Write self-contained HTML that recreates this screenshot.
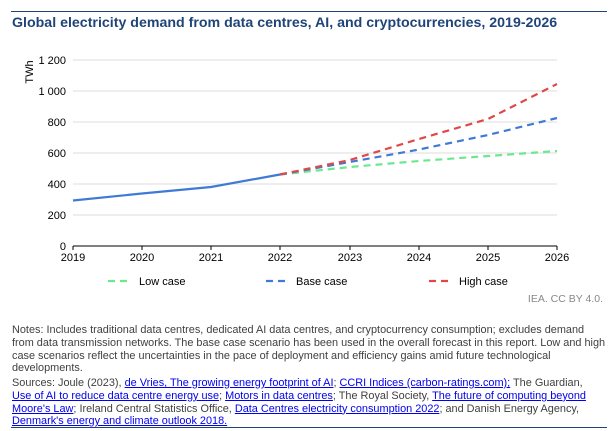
<!DOCTYPE html>
<html><head><meta charset="utf-8"><style>
body{margin:0;width:616px;height:431px;background:#fff;font-family:"Liberation Sans",sans-serif;position:relative;overflow:hidden}
.t{position:absolute;left:12px;top:15px;font-size:14.2px;font-weight:bold;color:#1f4478;white-space:nowrap}
.n{position:absolute;left:12px;width:600px;font-size:10.9px;line-height:12.8px;color:#404040;white-space:nowrap}
a{color:#0000ee;text-decoration:underline}
</style></head><body>
<div style="position:absolute;left:11px;top:11px;width:596px;height:1px;background:#1f4478"></div>
<div class="t">Global electricity demand from data centres, AI, and cryptocurrencies, 2019-2026</div>
<svg width="616" height="431" style="position:absolute;left:0;top:0" font-family="Liberation Sans, sans-serif" font-size="11" fill="#000">
<g stroke="#e3e3e3" stroke-width="1.3">
<line x1="73" x2="557" y1="60" y2="60"/><line x1="73" x2="557" y1="91" y2="91"/><line x1="73" x2="557" y1="122" y2="122"/><line x1="73" x2="557" y1="153" y2="153"/><line x1="73" x2="557" y1="184" y2="184"/><line x1="73" x2="557" y1="215" y2="215"/>
</g>
<line x1="73" x2="557" y1="246" y2="246" stroke="#000" stroke-width="1"/>
<g stroke="#000"><line x1="73" x2="73" y1="246" y2="250"/><line x1="142" x2="142" y1="246" y2="250"/><line x1="211" x2="211" y1="246" y2="250"/><line x1="280" x2="280" y1="246" y2="250"/><line x1="350" x2="350" y1="246" y2="250"/><line x1="419" x2="419" y1="246" y2="250"/><line x1="488" x2="488" y1="246" y2="250"/><line x1="557" x2="557" y1="246" y2="250"/></g>
<g text-anchor="end"><text x="66" y="64">1 200</text><text x="66" y="95">1 000</text><text x="66" y="126">800</text><text x="66" y="157">600</text><text x="66" y="188">400</text><text x="66" y="219">200</text><text x="66" y="250">0</text></g>
<text transform="translate(33,72) rotate(-90)" text-anchor="middle">TWh</text>
<g text-anchor="middle"><text x="73" y="261">2019</text><text x="142" y="261">2020</text><text x="211" y="261">2021</text><text x="280" y="261">2022</text><text x="350" y="261">2023</text><text x="419" y="261">2024</text><text x="488" y="261">2025</text><text x="557" y="261">2026</text></g>
<polyline fill="none" stroke="#3f7ad6" stroke-width="2.2" points="73,200.5 142,193.5 211,187 280,174.5"/>
<polyline fill="none" stroke="#6ce88c" stroke-width="2.2" stroke-dasharray="7,5" points="280,174.5 350,167 419,161 488,156 557,151"/>
<polyline fill="none" stroke="#3f7ad6" stroke-width="2.2" stroke-dasharray="7,5" points="280,174.5 350,162 419,149.5 488,135 557,118"/>
<polyline fill="none" stroke="#e04848" stroke-width="2.2" stroke-dasharray="7,5" points="280,174.5 350,160 419,139 488,119 557,84"/>
<g stroke-width="2.2" stroke-dasharray="7,5"><line x1="108" x2="132" y1="281" y2="281" stroke="#6ce88c"/><line x1="266" x2="290" y1="281" y2="281" stroke="#3f7ad6"/><line x1="429" x2="453" y1="281" y2="281" stroke="#e04848"/></g>
<text x="139" y="285">Low case</text><text x="296" y="285">Base case</text><text x="459" y="285">High case</text>
<text x="603" y="302" text-anchor="end" fill="#888" font-size="10.5">IEA. CC BY 4.0.</text>
</svg>
<div class="n" style="top:324px">Notes: Includes traditional data centres, dedicated AI data centres, and cryptocurrency consumption; excludes demand<br>from data transmission networks. The base case scenario has been used in the overall forecast in this report. Low and high<br>case scenarios reflect the uncertainties in the pace of deployment and efficiency gains amid future technological<br>developments.</div>
<div class="n" style="top:377px">Sources: Joule (2023), <a>de Vries, The growing energy footprint of AI</a>; <a>CCRI Indices (carbon-ratings.com);</a> The Guardian,<br><a>Use of AI to reduce data centre energy use</a>; <a>Motors in data centres</a>; The Royal Society, <a>The future of computing beyond</a><br><a>Moore's Law</a>; Ireland Central Statistics Office, <a>Data Centres electricity consumption 2022</a>; and Danish Energy Agency,<br><a>Denmark's energy and climate outlook 2018.</a></div>
<div style="position:absolute;left:11px;top:427px;width:596px;height:1px;background:#1f4478"></div>
</body></html>
